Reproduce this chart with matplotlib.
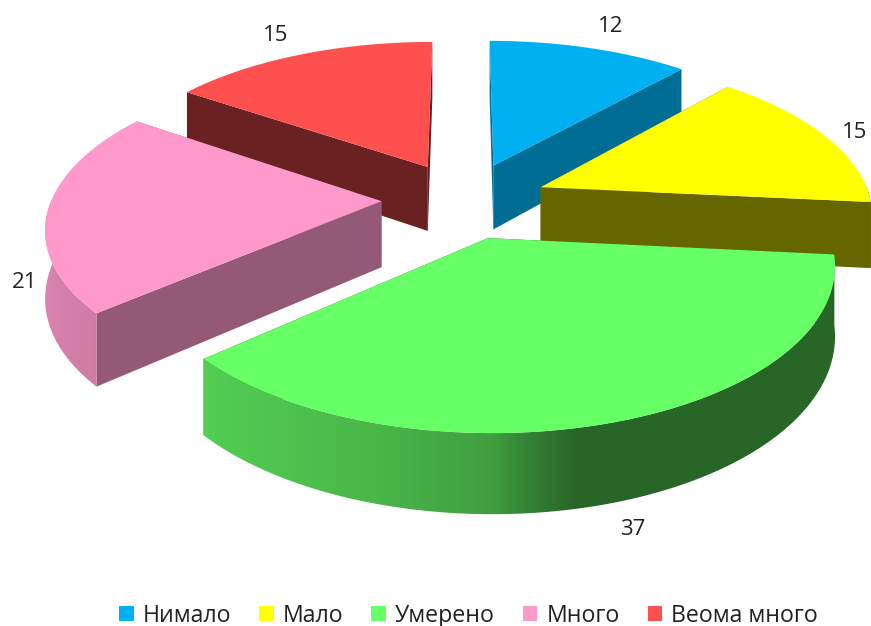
import numpy as np
import matplotlib
matplotlib.use('Agg')
import matplotlib.pyplot as plt
from matplotlib.patches import Polygon, Patch

labels = ['Нимало', 'Мало', 'Умерено', 'Много', 'Веома много']
values = [12, 15, 37, 21, 15]
colors = ['#00B0F0', '#FFFF00', '#66FF66', '#FF99CC', '#FF5050']
# how dark the flat cut face of each slice is
face_shade = [0.62, 0.40, 0.40, 0.58, 0.41]

plt.rcParams['font.family'] = ['Open Sans', 'DejaVu Sans']

# fake 3D pie: a disk seen in perspective, pixels of the picture as data units
cx, cy = 464, 200
sx, sy = 330, 153
k = 0.15
thick = 66
explode = 0.25
# the inner slice borders sit a little before their exact angle in the original
border_shift = np.array([0, -1.6, -1.6, -1.6, -1.6, 0])


def project(X, Y, z=0):
    s = 1 / (1 - k * Y)
    return cx + sx * X * s, cy + sy * Y * s + thick * s * z


def shade(col, f):
    return np.array(matplotlib.colors.to_rgb(col)) * f


def side_shade(theta):
    # light comes from the left
    return np.interp(np.sin(theta), [-1, -0.3, 0, 0.08, 0.2, 1], [0.86, 0.72, 0.62, 0.52, 0.4, 0.4])


fig = plt.figure(figsize=(8.71, 6.26), dpi=100)
ax = fig.add_axes([0, 0, 1, 1])

angles = np.cumsum([0] + values) * 3.6
edges = np.radians(angles + border_shift)
mids = np.radians((angles[:-1] + angles[1:]) / 2)
off_x = explode * np.sin(mids)
off_y = -explode * np.cos(mids)

# back slices first
for order, i in enumerate([4, 0, 1, 3, 2]):
    t = np.linspace(edges[i], edges[i + 1], 300)
    ox, oy = off_x[i], off_y[i]
    Xa, Ya = ox + np.sin(t), oy - np.cos(t)

    # flat cut faces
    for end in [0, -1]:
        p1 = project(ox, oy)
        p2 = project(Xa[end], Ya[end])
        p3 = project(Xa[end], Ya[end], 1)
        p4 = project(ox, oy, 1)
        ax.add_patch(Polygon([p1, p2, p3, p4], fc=shade(colors[i], face_shade[i]), ec='none', zorder=order))

    # curved outside: a left to right gradient clipped to the band
    front = np.cos(t) <= 0.02
    if front.any():
        x_top, y_top = project(Xa[front], Ya[front])
        x_bot, y_bot = project(Xa[front], Ya[front], 1)
        band = Polygon(np.c_[np.r_[x_top, x_bot[::-1]], np.r_[y_top, y_bot[::-1]]],
                       fc='none', ec='none', transform=ax.transData)
        ax.add_patch(band)
        columns = np.arange(np.floor(x_top.min()), np.ceil(x_top.max()) + 1)
        ord_x = np.argsort(x_top)
        f = np.interp(columns, x_top[ord_x], side_shade(t[front])[ord_x])
        grad = np.outer(f, shade(colors[i], 1)).reshape(1, -1, 3)
        im = ax.imshow(grad, extent=(columns[0], columns[-1], y_bot.max() + 2, y_top.min() - 2),
                       aspect='auto', interpolation='bilinear', zorder=order)
        im.set_clip_path(band)

    # top of the slice
    x_t, y_t = project(np.r_[ox, Xa], np.r_[oy, Ya])
    ax.add_patch(Polygon(np.c_[x_t, y_t], fc=colors[i], ec='none', zorder=order + 0.5))

ax.set_xlim(0, 871)
ax.set_ylim(626, 0)
ax.axis('off')

# value labels, from the rim at the slice's middle and then nudged
nudge = [(17, -22), (26, -7), (28, 25), (-25, 76), (-28, -18)]
for i, v in enumerate(values):
    z = 1 if i == 2 else 0
    px, py = project(off_x[i] + np.sin(mids[i]), off_y[i] - np.cos(mids[i]), z)
    ax.text(px + nudge[i][0], py + nudge[i][1], str(v), ha='center', va='center',
            fontsize=16, color='#222222', zorder=20)

handles = [Patch(fc=c, ec='none') for c in colors]
ax.legend(handles, labels, loc='lower center', bbox_to_anchor=(0.538, -0.036), ncol=5,
          frameon=False, fontsize=16.7, handlelength=0.62, handleheight=0.62,
          handletextpad=0.4, columnspacing=1.2, labelcolor='#222222')

fig.savefig('out.png', dpi=100)
